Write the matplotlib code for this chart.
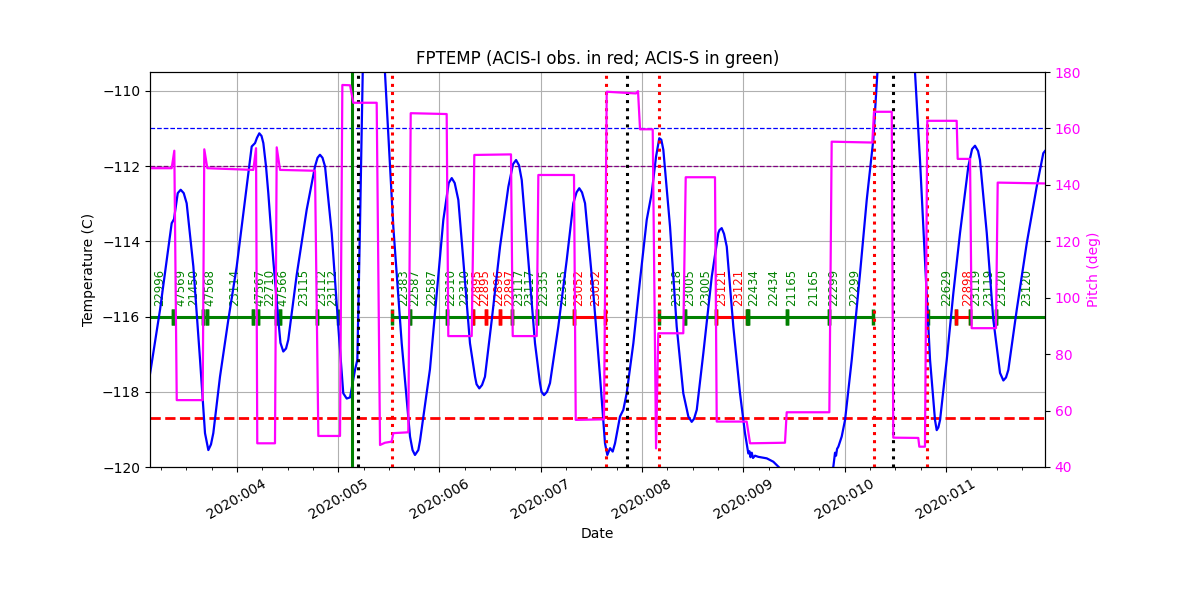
import matplotlib
matplotlib.use("Agg")
import matplotlib.pyplot as plt
from matplotlib.ticker import FuncFormatter, MultipleLocator

# ---------------- data (x in day-of-year 2020) ----------------
temp_day = [3.142, 3.241, 3.307, 3.356, 3.379, 3.406, 3.416, 3.445, 3.475, 3.504,
            3.570, 3.636, 3.685, 3.718, 3.744, 3.767, 3.833, 3.915, 3.998, 4.080,
            4.146, 4.179, 4.198, 4.221, 4.243, 4.261, 4.287, 4.310, 4.359, 4.409,
            4.430, 4.458, 4.485, 4.507, 4.590, 4.689, 4.771, 4.796, 4.820, 4.845,
            4.870, 4.936, 5.001, 5.050, 5.084, 5.117, 5.166, 5.189, 5.215, 5.242,
            5.344, 5.462, 5.544, 5.627, 5.709, 5.734, 5.758, 5.791, 5.808, 5.906,
            5.973, 6.038, 6.091, 6.121, 6.150, 6.186, 6.235, 6.301, 6.351, 6.366,
            6.393, 6.420, 6.449, 6.516, 6.598, 6.680, 6.726, 6.756, 6.785, 6.812,
            6.877, 6.943, 6.992, 7.007, 7.032, 7.062, 7.091, 7.173, 7.256, 7.321,
            7.353, 7.380, 7.407, 7.437, 7.519, 7.585, 7.634, 7.657, 7.684, 7.710,
            7.733, 7.782, 7.815, 7.848, 7.914, 7.980, 8.046, 8.095, 8.138, 8.170,
            8.190, 8.210, 8.276, 8.342, 8.407, 8.457, 8.490, 8.513, 8.540, 8.605,
            8.688, 8.753, 8.765, 8.786, 8.809, 8.836, 8.901, 8.967, 9.016, 9.049,
            9.060, 9.070, 9.083, 9.095, 9.115, 9.148, 9.231, 9.296, 9.345, 9.461,
            9.609, 9.757, 9.888, 9.905, 9.915, 9.925, 9.938, 9.971, 10.004, 10.070,
            10.152, 10.218, 10.283, 10.323, 10.507, 10.695, 10.744, 10.793, 10.843, 10.892,
            10.909, 10.925, 10.942, 11.008, 11.073, 11.139, 11.221, 11.258, 11.287, 11.317,
            11.336, 11.403, 11.468, 11.534, 11.567, 11.593, 11.616, 11.699, 11.798, 11.896,
            11.961, 11.978]
temp_val = [-117.53, -115.82, -114.50, -113.52, -113.41, -112.90, -112.72, -112.63, -112.72, -112.99,
            -114.67, -117.15, -119.10, -119.55, -119.40, -119.10, -117.60, -116.09, -114.67, -112.90,
            -111.48, -111.39, -111.25, -111.13, -111.20, -111.39, -112.00, -112.72, -114.50, -116.09,
            -116.70, -116.93, -116.85, -116.62, -114.90, -113.16, -112.01, -111.78, -111.70, -111.78,
            -112.01, -113.78, -116.27, -118.04, -118.18, -118.15, -117.42, -117.15, -113.61, -109.53,
            -108.00, -109.53, -113.61, -116.71, -119.19, -119.55, -119.68, -119.55, -119.30, -117.40,
            -115.38, -113.43, -112.45, -112.32, -112.45, -112.90, -114.50, -116.71, -117.60, -117.80,
            -117.91, -117.82, -117.60, -116.09, -114.14, -112.55, -111.95, -111.84, -111.98, -112.37,
            -114.50, -116.71, -117.77, -118.00, -118.09, -118.00, -117.77, -116.27, -114.50, -112.99,
            -112.70, -112.59, -112.70, -112.99, -115.38, -117.60, -119.37, -119.68, -119.50, -119.59,
            -119.37, -118.66, -118.48, -118.04, -116.71, -115.03, -113.43, -112.72, -111.75, -111.26,
            -111.30, -111.57, -113.61, -116.27, -118.04, -118.66, -118.80, -118.72, -118.48, -116.97,
            -114.94, -113.78, -113.70, -113.65, -113.80, -114.14, -116.27, -118.04, -119.10, -119.64,
            -119.58, -119.74, -119.62, -119.76, -119.70, -119.73, -119.77, -119.86, -119.99, -120.30,
            -120.50, -120.40, -120.00, -119.62, -119.70, -119.52, -119.46, -119.19, -118.75, -117.15,
            -114.85, -112.90, -111.30, -109.53, -107.80, -109.53, -111.84, -114.50, -117.15, -118.75,
            -119.02, -118.95, -118.75, -117.15, -115.38, -113.78, -112.01, -111.55, -111.46, -111.60,
            -111.84, -113.78, -116.09, -117.50, -117.70, -117.62, -117.42, -115.82, -114.05, -112.55,
            -111.66, -111.60]

pitch_day = [3.142, 3.356, 3.382, 3.406, 3.662, 3.678, 3.708, 4.162, 4.189, 4.201,
             4.376, 4.393, 4.426, 4.771, 4.804, 5.018, 5.041, 5.117, 5.149, 5.380,
             5.413, 5.462, 5.528, 5.544, 5.692, 5.716, 6.071, 6.087, 6.318, 6.344,
             6.706, 6.723, 6.960, 6.976, 7.328, 7.345, 7.624, 7.651, 7.940, 7.960,
             7.980, 8.105, 8.138, 8.160, 8.407, 8.431, 8.720, 8.737, 9.033, 9.066,
             9.411, 9.428, 9.849, 9.872, 10.273, 10.290, 10.465, 10.480, 10.727, 10.737,
             10.793, 10.816, 11.106, 11.116, 11.238, 11.254, 11.494, 11.511, 11.978]
pitch_val = [145.9, 145.9, 152.1, 63.7, 63.7, 152.6, 145.9, 145.3, 153.0, 48.4,
             48.4, 153.3, 145.3, 145.0, 51.0, 51.0, 175.4, 175.3, 169.1, 169.1,
             47.8, 48.6, 49.0, 52.0, 52.3, 165.4, 165.1, 86.4, 86.4, 150.6,
             150.8, 86.4, 86.4, 143.5, 143.5, 56.7, 56.9, 173.0, 172.4, 173.2,
             159.7, 159.7, 46.6, 87.4, 87.4, 142.7, 142.7, 56.1, 56.1, 48.4,
             48.6, 59.4, 59.4, 155.3, 155.0, 165.9, 165.9, 50.4, 50.3, 47.2,
             47.2, 162.7, 162.7, 149.2, 149.2, 89.2, 89.2, 140.8, 140.5]

# observation intervals on the bar at -116 C ('S' = ACIS-S green, 'I' = ACIS-I red)
obs_start = [3.044, 3.372, 3.662, 3.708, 4.162, 4.208, 4.386, 4.426, 4.788,
             5.528, 5.709, 6.071, 6.334, 6.462, 6.593, 6.713, 6.963, 7.328,
             8.170, 8.424, 8.725, 9.033, 9.049, 9.428, 9.849,
             10.826, 11.100, 11.238, 11.494]
obs_stop = [3.372, 3.662, 3.708, 4.162, 4.208, 4.386, 4.426, 4.788, 5.001,
            5.709, 6.071, 6.334, 6.462, 6.593, 6.713, 6.963, 7.328, 7.634,
            8.424, 8.725, 9.033, 9.049, 9.428, 9.849, 10.283,
            11.100, 11.238, 11.494, 12.030]
obs_instr = ['S', 'S', 'S', 'S', 'S', 'S', 'S', 'S', 'S',
             'S', 'S', 'S', 'I', 'I', 'I', 'S', 'S', 'I',
             'S', 'S', 'I', 'S', 'S', 'S', 'S',
             'S', 'I', 'S', 'S']

label_day = [3.241, 3.445, 3.576, 3.734, 3.981, 4.228, 4.327, 4.452, 4.656, 4.837,
             4.949, 5.650, 5.758, 5.923, 6.111, 6.252, 6.368, 6.449, 6.581, 6.696,
             6.778, 6.894, 7.025, 7.215, 7.377, 7.545, 8.345, 8.473, 8.631, 8.786,
             8.950, 9.098, 9.296, 9.477, 9.691, 9.888, 10.102, 11.008, 11.211, 11.297,
             11.418, 11.551, 11.798]
label_text = ['22996', '47569', '21450', '47568', '23114', '47567', '22710', '47566', '23115', '23112',
              '23112', '22383', '22587', '22587', '22310', '22310', '22895', '22895', '22896', '22897',
              '23117', '23117', '22335', '22335', '23052', '23052', '23118', '23005', '23005', '23121',
              '23121', '22434', '22434', '21165', '21165', '22299', '22299', '22629', '22898', '23119',
              '23119', '23120', '23120']
label_instr = ['S', 'S', 'S', 'S', 'S', 'S', 'S', 'S', 'S', 'S',
               'S', 'S', 'S', 'S', 'S', 'S', 'I', 'I', 'I', 'I',
               'S', 'S', 'S', 'S', 'I', 'I', 'S', 'S', 'S', 'I',
               'I', 'S', 'S', 'S', 'S', 'S', 'S', 'S', 'I', 'S',
               'S', 'S', 'S']

radzone_day = [5.199, 7.848, 10.480]                      # black dotted
perigee_lim_day = [5.534, 7.644, 8.170, 10.287, 10.816]  # red dotted
green_line_day = [5.139]                                  # green solid

obs_bar_level = -116.0
label_level = -115.72
limit_planning = -118.7
limit_blue = -111.0
limit_purple = -112.0

xlim = (3.142, 11.978)
ylim_temp = (-120.0, -109.5)
ylim_pitch = (40, 180)

colors = {'S': 'green', 'I': 'red'}

# ---------------- plotting ----------------
fig = plt.figure(figsize=(12, 6), dpi=100)
ax = fig.add_axes([0.125, 1 - 467 / 600, (1045 - 150) / 1200, (467 - 72) / 600])

ax.grid(True, color='#b0b0b0', lw=0.8, zorder=0)
ax.set_axisbelow(True)

for s, e, ins in zip(obs_start, obs_stop, obs_instr):
    ax.plot([s, e], [obs_bar_level, obs_bar_level], color=colors[ins], lw=2.2,
            marker='|', ms=11, mew=2.5, zorder=2)

for d, t, ins in zip(label_day, label_text, label_instr):
    ax.text(d, label_level, t, rotation=90, color=colors[ins], fontsize=8.4,
            ha='center', va='bottom', zorder=1)

ax.axhline(limit_blue, color='blue', ls='--', lw=0.9, zorder=2)
ax.axhline(limit_purple, color='purple', ls='--', lw=0.9, zorder=2)
ax.axhline(limit_planning, color='red', ls='--', lw=2, zorder=2)

ax.plot(temp_day, temp_val, color='blue', lw=1.6, zorder=4)

for d in green_line_day:
    ax.axvline(d, color='green', lw=2.2, zorder=5)
for d in radzone_day:
    ax.axvline(d, color='black', ls=':', lw=2.2, zorder=5)
for d in perigee_lim_day:
    ax.axvline(d, color='red', ls=':', lw=2.2, zorder=5)

ax.set_xlim(*xlim)
ax.set_ylim(*ylim_temp)
ax.xaxis.set_major_locator(MultipleLocator(1))
ax.xaxis.set_minor_locator(MultipleLocator(0.25))
ax.xaxis.set_major_formatter(FuncFormatter(lambda v, p: "2020:%03d" % int(round(v))))
for lab in ax.get_xticklabels():
    lab.set_rotation(30)
    lab.set_ha('center')
ax.set_ylabel('Temperature (C)')
ax.set_xlabel('Date')
ax.set_title('FPTEMP (ACIS-I obs. in red; ACIS-S in green)')

ax2 = ax.twinx()
ax2.plot(pitch_day, pitch_val, color='magenta', lw=1.6)
ax2.set_ylim(*ylim_pitch)
ax2.set_ylabel('Pitch (deg)', color='magenta')
ax2.tick_params(axis='y', labelcolor='magenta')
ax2.set_xlim(*xlim)

fig.savefig('out.png', dpi=100)
